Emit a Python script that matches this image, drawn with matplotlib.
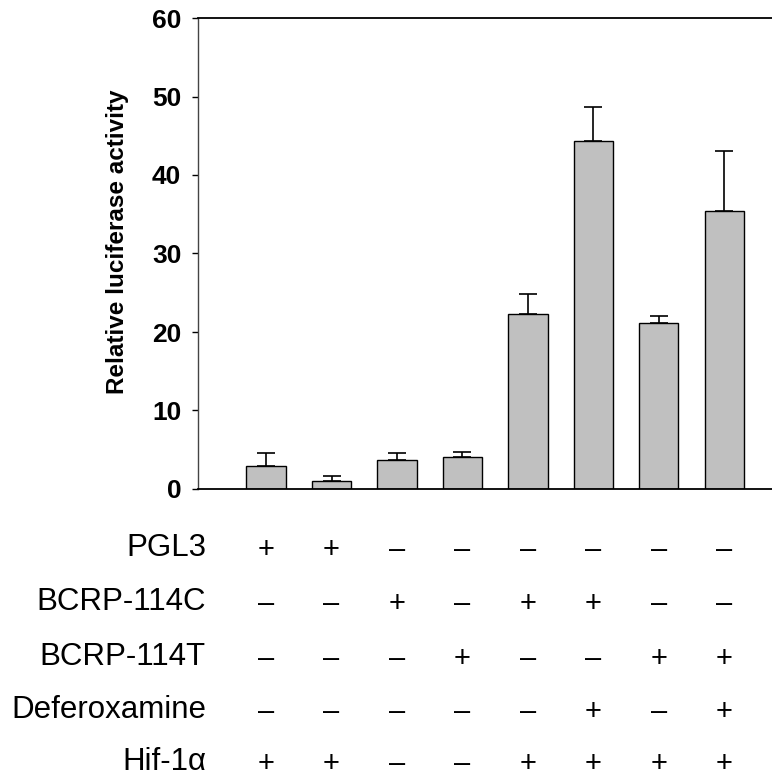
import matplotlib
matplotlib.use("Agg")
import matplotlib.pyplot as plt
import matplotlib.transforms as mtransforms

plt.rcParams['font.family'] = ['Liberation Sans', 'DejaVu Sans']

# luciferase activity per condition, with upward error
values = [2.9, 1.0, 3.7, 4.1, 22.3, 44.3, 21.1, 35.4]
errors = [1.7, 0.6, 0.9, 0.6, 2.6, 4.3, 0.9, 7.6]

row_labels = ["PGL3", "BCRP-114C", "BCRP-114T", "Deferoxamine", "Hif-1\u03b1"]
pgl3 = ["+", "+", "\u2013", "\u2013", "\u2013", "\u2013", "\u2013", "\u2013"]
bcrp_c = ["\u2013", "\u2013", "+", "\u2013", "+", "+", "\u2013", "\u2013"]
bcrp_t = ["\u2013", "\u2013", "\u2013", "+", "\u2013", "\u2013", "+", "+"]
defer = ["\u2013", "\u2013", "\u2013", "\u2013", "\u2013", "+", "\u2013", "+"]
hif = ["+", "+", "\u2013", "\u2013", "+", "+", "+", "+"]
rows = [pgl3, bcrp_c, bcrp_t, defer, hif]

W, H = 772, 779
fig = plt.figure(figsize=(W / 100, H / 100), dpi=100)
ax = fig.add_axes([198 / W, 1 - 489 / H, 1 - 198 / W, (489 - 18) / H])

x = list(range(len(values)))
ax.bar(x, values, width=0.6, color="#c0c0c0", edgecolor="black", linewidth=1.0, zorder=2)
ax.errorbar(x, values, yerr=[[0] * len(errors), errors], fmt="none", ecolor="black",
            elinewidth=1.2, capsize=6.5, capthick=1.2, zorder=1)

ax.set_xlim(-1.04, 7.73)
ax.set_ylim(0, 60)
ax.set_yticks([0, 10, 20, 30, 40, 50, 60])
ax.set_xticks([])
ax.tick_params(axis="y", direction="out", length=4, width=1, pad=8, labelsize=19)
for lab in ax.get_yticklabels():
    lab.set_fontweight("bold")
ax.spines["right"].set_visible(False)
ax.spines["left"].set_linewidth(1.0)
ax.spines["left"].set_color("#444444")
ax.spines["top"].set_linewidth(1.3)
ax.spines["bottom"].set_linewidth(1.3)

fig.text(118 / W, 1 - 242 / H, "Relative luciferase activity", rotation=90,
         ha="center", va="center", fontsize=17.5, fontweight="bold")

row_y = [548, 602, 657, 710, 762]
trans = mtransforms.blended_transform_factory(ax.transData, fig.transFigure)
for label, signs, yp in zip(row_labels, rows, row_y):
    fig.text(206 / W, 1 - yp / H, label, ha="right", va="center", fontsize=22.5)
    for xi, s in zip(x, signs):
        ax.text(xi, 1 - (yp + 2) / H, s, transform=trans, ha="center", va="center",
                fontsize=21, clip_on=False)

fig.savefig("out.png", dpi=100)
